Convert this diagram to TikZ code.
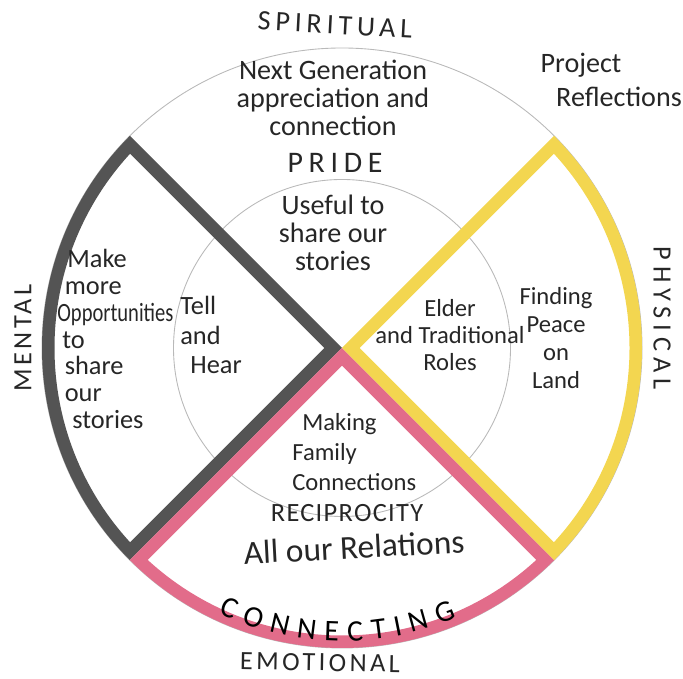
\documentclass[tikz,border=0pt]{standalone}
\usepackage{fontspec}
\setmainfont{Carlito}
\usetikzlibrary{decorations.text}

\definecolor{pencilblack}{RGB}{84,84,84}
\definecolor{pencilyellow}{RGB}{243,214,80}
\definecolor{pencilpink}{RGB}{226,108,138}

\newcommand\connfont{\fontsize{17}{17}\selectfont}

\tikzset{
  hand/.style 2 args={font=\fontsize{#1}{#2}\selectfont, text=black!85, inner sep=0pt},
  caps/.style 2 args={font=\fontsize{#1}{#1}\selectfont\addfontfeatures{LetterSpace=#2}, text=black!85, inner sep=0pt},
  thinring/.style={gray!55, line width=0.5pt}
}

\begin{document}
\begin{tikzpicture}
  \useasboundingbox (0,0) rectangle (13.66,13.58);
  \coordinate (C) at (6.84,6.62);
  \def\R{6.0}

  % outer and inner rings
  \draw[thinring] (C) circle[radius=\R];
  \draw[thinring] (C) circle[radius=3.37];

  % coloured quarters, drawn as bands inside each sector
  \begin{scope}[shift={(C)}]
    \foreach \s/\c in {135/pencilblack, 225/pencilpink, -45/pencilyellow}{
      \begin{scope}
        \clip (0,0) -- (\s:\R) arc[start angle=\s, delta angle=90, radius=\R] -- cycle;
        \draw[\c, line width=0.5cm] (0,0) -- (\s:\R) arc[start angle=\s, delta angle=90, radius=\R] -- cycle;
      \end{scope}
    }
    \path[decorate, decoration={text along path, text=|\connfont|CONNECTING, text align=fit to path}]
      (245:5.86) arc[start angle=245, end angle=293, radius=5.86];
  \end{scope}

  % directions
  \node[caps={16}{17}, rotate=-3] (spiritual) at (6.70,13.08) {SPIRITUAL};
  \node[caps={15}{22}, rotate=-90] (physical) at (13.24,7.22) {PHYSICAL};
  \node[caps={15}{13}, rotate=-1] (emotional) at (6.40,0.33) {EMOTIONAL};
  \node[caps={15}{13}, rotate=90] (mental) at (0.46,6.82) {MENTAL};

  % top quarter
  \node[hand={16}{16}, align=center] (nextgen) at (6.66,11.62) {Next Generation\\appreciation and\\connection};
  \node[hand={16}{16}] (project) at (11.62,12.28) {Project};
  \node[hand={16}{16}] (reflect) at (12.38,11.64) {Reflections};
  \node[caps={17}{19}] (pride) at (6.70,10.32) {PRIDE};
  \node[hand={16}{16}, align=center] (useful) at (6.66,8.92) {Useful to\\share our\\stories};

  % left quarter
  \node[hand={15}{15.3}, align=left, anchor=west] (more) at (1.14,6.80)
    {\hspace{0.2cm}Make\\\hspace{0.15cm}more\\\scalebox{0.78}[1]{Opportunities}\\\hspace{0.1cm}to\\\hspace{0.15cm}share\\\hspace{0.15cm}our\\\hspace{0.3cm}stories};
  \node[hand={15}{17}, align=left, anchor=west] (tell) at (3.60,6.88) {Tell\\and\\\hspace{0.2cm}Hear};

  % right quarter
  \node[hand={14}{15.3}, align=center] (elder) at (9.00,6.88) {Elder\\and Traditional\\Roles};
  \node[hand={14}{16}, align=center] (finding) at (11.12,6.82) {Finding\\Peace\\on\\Land};

  % bottom quarter
  \node[hand={14}{17}, align=left, anchor=west] (making) at (5.84,4.54) {\hspace{0.2cm}Making\\Family\\Connections};
  \node[caps={15}{5}] (recip) at (6.94,3.32) {RECIPROCITY};
  \node[hand={19}{19}, rotate=3] (relations) at (7.08,2.64) {All our Relations};
\end{tikzpicture}
\end{document}
